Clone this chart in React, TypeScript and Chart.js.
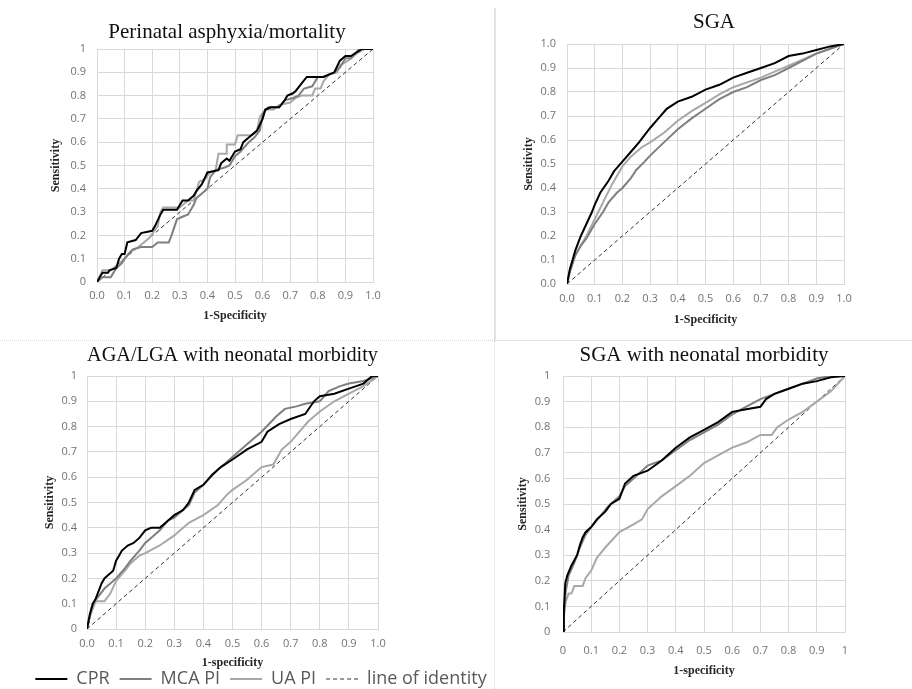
import React, { useEffect, useRef } from "react";
import { Chart, registerables } from "chart.js";

Chart.register(...registerables);

type Pt = [number, number];

// ---------- Panel 1: Perinatal asphyxia/mortality ----------
const p1Cpr: Pt[] = [[0,0],[0.01,0.02],[0.02,0.04],[0.04,0.04],[0.045,0.05],[0.07,0.06],[0.08,0.1],[0.09,0.12],[0.1,0.12],[0.11,0.17],[0.14,0.18],[0.16,0.21],[0.2,0.22],[0.21,0.24],[0.23,0.29],[0.24,0.31],[0.29,0.31],[0.3,0.33],[0.31,0.35],[0.33,0.35],[0.35,0.37],[0.36,0.39],[0.38,0.42],[0.4,0.47],[0.44,0.48],[0.45,0.51],[0.47,0.53],[0.48,0.52],[0.5,0.56],[0.52,0.57],[0.53,0.6],[0.55,0.62],[0.57,0.64],[0.58,0.65],[0.6,0.7],[0.61,0.74],[0.63,0.75],[0.66,0.75],[0.68,0.78],[0.69,0.8],[0.71,0.81],[0.72,0.82],[0.74,0.85],[0.76,0.88],[0.82,0.88],[0.84,0.89],[0.86,0.9],[0.88,0.95],[0.9,0.97],[0.92,0.97],[0.96,1],[1,1]];
const p1Mca: Pt[] = [[0,0],[0.02,0.02],[0.05,0.02],[0.07,0.06],[0.09,0.08],[0.1,0.1],[0.13,0.14],[0.16,0.15],[0.2,0.15],[0.22,0.17],[0.26,0.17],[0.27,0.2],[0.29,0.27],[0.31,0.28],[0.33,0.29],[0.35,0.33],[0.36,0.36],[0.38,0.38],[0.4,0.4],[0.41,0.45],[0.43,0.48],[0.46,0.49],[0.48,0.5],[0.5,0.54],[0.52,0.56],[0.55,0.6],[0.57,0.62],[0.59,0.65],[0.6,0.72],[0.62,0.75],[0.66,0.75],[0.68,0.78],[0.71,0.79],[0.73,0.8],[0.75,0.83],[0.78,0.84],[0.8,0.88],[0.82,0.88],[0.86,0.9],[0.88,0.92],[0.9,0.96],[0.92,0.96],[0.95,1],[1,1]];
const p1Ua: Pt[] = [[0,0],[0.02,0.05],[0.05,0.05],[0.07,0.07],[0.1,0.1],[0.12,0.13],[0.15,0.15],[0.19,0.19],[0.22,0.24],[0.23,0.3],[0.24,0.32],[0.3,0.32],[0.31,0.33],[0.33,0.35],[0.35,0.35],[0.36,0.39],[0.37,0.43],[0.39,0.44],[0.41,0.47],[0.43,0.48],[0.44,0.55],[0.47,0.55],[0.47,0.59],[0.5,0.59],[0.51,0.63],[0.56,0.63],[0.58,0.65],[0.59,0.71],[0.61,0.74],[0.64,0.74],[0.66,0.76],[0.7,0.77],[0.72,0.79],[0.74,0.8],[0.78,0.8],[0.79,0.83],[0.81,0.83],[0.82,0.86],[0.84,0.89],[0.87,0.9],[0.88,0.93],[0.91,0.95],[0.94,0.98],[0.97,1],[1,1]];

// ---------- Panel 2: SGA ----------
const p2Cpr: Pt[] = [[0,0],[0.01,0.06],[0.02,0.1],[0.03,0.14],[0.05,0.2],[0.07,0.25],[0.09,0.3],[0.1,0.33],[0.12,0.38],[0.15,0.43],[0.17,0.47],[0.2,0.51],[0.23,0.55],[0.26,0.59],[0.3,0.65],[0.33,0.69],[0.36,0.73],[0.4,0.76],[0.45,0.78],[0.5,0.81],[0.55,0.83],[0.6,0.86],[0.65,0.88],[0.7,0.9],[0.75,0.92],[0.8,0.95],[0.85,0.96],[0.9,0.975],[0.95,0.99],[1,1]];
const p2Mca: Pt[] = [[0,0],[0.01,0.05],[0.03,0.12],[0.05,0.16],[0.07,0.19],[0.1,0.25],[0.13,0.3],[0.15,0.34],[0.18,0.38],[0.2,0.4],[0.23,0.44],[0.25,0.475],[0.28,0.51],[0.3,0.535],[0.35,0.59],[0.4,0.645],[0.45,0.69],[0.5,0.73],[0.55,0.77],[0.6,0.8],[0.65,0.82],[0.7,0.85],[0.75,0.87],[0.8,0.9],[0.85,0.93],[0.9,0.96],[0.95,0.98],[1,1]];
const p2Ua: Pt[] = [[0,0],[0.01,0.05],[0.03,0.12],[0.05,0.16],[0.07,0.2],[0.1,0.27],[0.13,0.34],[0.16,0.41],[0.18,0.45],[0.2,0.49],[0.23,0.53],[0.27,0.57],[0.3,0.59],[0.35,0.63],[0.4,0.68],[0.45,0.72],[0.5,0.755],[0.55,0.79],[0.6,0.82],[0.65,0.84],[0.7,0.86],[0.75,0.885],[0.8,0.91],[0.85,0.935],[0.9,0.96],[0.95,0.98],[1,1]];

// ---------- Panel 3: AGA/LGA with neonatal morbidity ----------
const p3Cpr: Pt[] = [[0,0],[0.005,0.03],[0.01,0.06],[0.02,0.1],[0.03,0.12],[0.04,0.15],[0.05,0.18],[0.06,0.2],[0.07,0.21],[0.09,0.23],[0.1,0.27],[0.11,0.29],[0.12,0.31],[0.14,0.33],[0.16,0.34],[0.18,0.36],[0.2,0.39],[0.22,0.4],[0.25,0.4],[0.27,0.42],[0.3,0.45],[0.33,0.47],[0.35,0.5],[0.37,0.55],[0.4,0.57],[0.43,0.61],[0.46,0.64],[0.5,0.67],[0.55,0.71],[0.6,0.74],[0.62,0.78],[0.66,0.81],[0.7,0.83],[0.75,0.85],[0.78,0.9],[0.8,0.92],[0.85,0.93],[0.9,0.95],[0.95,0.97],[0.98,1],[1,1]];
const p3Mca: Pt[] = [[0,0],[0.01,0.05],[0.02,0.1],[0.04,0.13],[0.06,0.16],[0.08,0.18],[0.1,0.2],[0.13,0.24],[0.15,0.27],[0.18,0.31],[0.2,0.34],[0.23,0.37],[0.25,0.39],[0.28,0.43],[0.3,0.44],[0.33,0.47],[0.35,0.49],[0.37,0.54],[0.4,0.57],[0.45,0.63],[0.5,0.68],[0.55,0.73],[0.6,0.78],[0.65,0.84],[0.68,0.87],[0.72,0.88],[0.75,0.89],[0.8,0.9],[0.83,0.94],[0.87,0.96],[0.9,0.97],[0.95,0.98],[1,1]];
const p3Ua: Pt[] = [[0,0],[0.01,0.05],[0.02,0.08],[0.03,0.11],[0.06,0.11],[0.08,0.14],[0.1,0.19],[0.13,0.23],[0.15,0.26],[0.18,0.29],[0.2,0.3],[0.25,0.33],[0.3,0.37],[0.35,0.42],[0.4,0.45],[0.45,0.49],[0.48,0.53],[0.5,0.55],[0.55,0.59],[0.6,0.64],[0.64,0.65],[0.67,0.71],[0.7,0.74],[0.73,0.78],[0.76,0.82],[0.8,0.86],[0.85,0.9],[0.9,0.93],[0.95,0.96],[1,1]];

// ---------- Panel 4: SGA with neonatal morbidity ----------
const p4Cpr: Pt[] = [[0,0],[0.003,0.08],[0.008,0.19],[0.015,0.22],[0.03,0.26],[0.05,0.3],[0.06,0.34],[0.07,0.37],[0.08,0.39],[0.1,0.41],[0.12,0.44],[0.15,0.47],[0.17,0.5],[0.2,0.52],[0.22,0.58],[0.25,0.61],[0.3,0.63],[0.35,0.67],[0.4,0.72],[0.45,0.76],[0.5,0.79],[0.55,0.82],[0.6,0.86],[0.65,0.87],[0.7,0.88],[0.72,0.91],[0.75,0.93],[0.8,0.95],[0.85,0.97],[0.9,0.98],[0.95,0.995],[1,1]];
const p4Mca: Pt[] = [[0,0],[0.005,0.1],[0.01,0.16],[0.02,0.22],[0.04,0.27],[0.06,0.33],[0.08,0.38],[0.1,0.41],[0.13,0.45],[0.16,0.49],[0.2,0.53],[0.22,0.57],[0.25,0.6],[0.3,0.65],[0.35,0.67],[0.4,0.71],[0.45,0.75],[0.5,0.78],[0.55,0.81],[0.6,0.85],[0.65,0.88],[0.7,0.91],[0.75,0.93],[0.8,0.95],[0.85,0.97],[0.9,0.99],[0.95,1],[1,1]];
const p4Ua: Pt[] = [[0,0],[0.005,0.08],[0.01,0.12],[0.02,0.15],[0.03,0.15],[0.04,0.18],[0.07,0.18],[0.08,0.21],[0.1,0.24],[0.12,0.29],[0.15,0.33],[0.2,0.39],[0.25,0.42],[0.28,0.44],[0.3,0.48],[0.35,0.53],[0.4,0.57],[0.45,0.61],[0.5,0.66],[0.55,0.69],[0.6,0.72],[0.65,0.74],[0.7,0.77],[0.74,0.77],[0.76,0.8],[0.8,0.83],[0.85,0.86],[0.9,0.9],[0.95,0.94],[1,1]];

const identity: Pt[] = [[0,0],[1,1]];

const seriesLabels = ["CPR", "MCA PI", "UA PI", "line of identity"];
const seriesColors = ["#000000", "#7f7f7f", "#a8a8a8", "#333333"];

const titles = [
  "Perinatal asphyxia/mortality",
  "SGA",
  "AGA/LGA with neonatal morbidity",
  "SGA with neonatal morbidity",
];
const xTitles = ["1-Specificity", "1-Specificity", "1-specificity", "1-specificity"];
const yTitle = "Sensitivity";

type Fmt = "fixed1" | "plain";

interface PanelCfg {
  idx: number;
  series: Pt[][];
  left: number; top: number; w: number; h: number;
  yAxisW: number; rightW: number;
  titlePt: number; titlePb: number; titleFull: boolean;
  xAxisH: number; xTickPad: number; xTitlePb: number;
  yTickPad: number; yTitlePt: number;
  xFmt: Fmt; yFmt: Fmt;
  legend: boolean;
}

const panels: PanelCfg[] = [
  { idx: 0, series: [p1Cpr, p1Mca, p1Ua, identity], left: 40, top: 0, w: 374, h: 340,
    yAxisW: 57, rightW: 41, titlePt: 19.4, titlePb: 4.4, titleFull: true,
    xAxisH: 58, xTickPad: 7.4, xTitlePb: 17.2, yTickPad: 11, yTitlePt: 9.2,
    xFmt: "fixed1", yFmt: "plain", legend: false },
  { idx: 1, series: [p2Cpr, p2Mca, p2Ua, identity], left: 516, top: 0, w: 396, h: 340,
    yAxisW: 51, rightW: 68, titlePt: 10.1, titlePb: 8.7, titleFull: true,
    xAxisH: 56, xTickPad: 8.7, xTitlePb: 13.2, yTickPad: 11, yTitlePt: 6.2,
    xFmt: "fixed1", yFmt: "fixed1", legend: false },
  { idx: 2, series: [p3Cpr, p3Mca, p3Ua, identity], left: 10, top: 340, w: 502, h: 358,
    yAxisW: 77, rightW: 134, titlePt: 2.4, titlePb: 8.4, titleFull: false,
    xAxisH: 31, xTickPad: 8.4, xTitlePb: -10.5, yTickPad: 10, yTitlePt: 32.9,
    xFmt: "fixed1", yFmt: "plain", legend: true },
  { idx: 3, series: [p4Cpr, p4Mca, p4Ua, identity], left: 510, top: 340, w: 388, h: 349,
    yAxisW: 53, rightW: 53, titlePt: 2.4, titlePb: 8.4, titleFull: true,
    xAxisH: 57, xTickPad: 12.4, xTitlePb: 11.2, yTickPad: 12.7, yTitlePt: 5.9,
    xFmt: "plain", yFmt: "plain", legend: false },
];

const fmt = (f: Fmt) => (v: any) => {
  const n = Number(v);
  return f === "fixed1" ? n.toFixed(1) : String(Math.round(n * 10) / 10);
};

const TICK_FONT = { family: "'Open Sans', 'Noto Sans', sans-serif", size: 11 };
const AXIS_TITLE_FONT = { family: "'Liberation Serif', 'Times New Roman', serif", size: 12, weight: "bold" as const };
const GRID = "#d9d9d9";

function buildConfig(p: PanelCfg): any {
  const datasets = p.series.map((s, i) => ({
    label: seriesLabels[i],
    data: s.map(([x, y]) => ({ x, y })),
    borderColor: seriesColors[i],
    backgroundColor: seriesColors[i],
    borderWidth: i === 3 ? 1 : 2,
    borderDash: i === 3 ? [4, 3] : [],
    pointRadius: 0,
    pointHoverRadius: 0,
    tension: 0,
    fill: false,
    xAxisID: "x",
    yAxisID: "y",
  }));

  return {
    type: "line",
    data: { datasets },
    options: {
      animation: false,
      responsive: false,
      maintainAspectRatio: false,
      events: [],
      layout: { padding: 0 },
      plugins: {
        title: {
          display: true,
          text: titles[p.idx],
          fullSize: p.titleFull,
          color: "#111111",
          font: { family: "'Liberation Serif', 'Times New Roman', serif", size: 21, weight: "normal", lineHeight: 1.2 },
          padding: { top: p.titlePt, bottom: p.titlePb },
        },
        legend: {
          display: p.legend,
          position: "bottom",
          align: "center",
          labels: {
            usePointStyle: true,
            pointStyle: "line",
            pointStyleWidth: 32,
            padding: 10,
            color: "#595959",
            font: { family: "'Open Sans', 'Noto Sans', sans-serif", size: 18 },
            generateLabels: (chart: any) =>
              chart.data.datasets.map((ds: any, i: number) => ({
                text: ds.label,
                datasetIndex: i,
                hidden: false,
                strokeStyle: ds.borderColor,
                fillStyle: "rgba(0,0,0,0)",
                lineWidth: ds.borderWidth,
                lineDash: ds.borderDash,
                pointStyle: "line",
                fontColor: "#595959",
              })),
          },
        },
        tooltip: { enabled: false },
      },
      scales: {
        x: {
          type: "linear",
          position: "bottom",
          min: 0,
          max: 1,
          ticks: {
            stepSize: 0.1,
            autoSkip: false,
            maxRotation: 0,
            padding: p.xTickPad,
            color: "#737373",
            font: TICK_FONT,
            callback: fmt(p.xFmt),
          },
          grid: { color: GRID, lineWidth: 1, drawTicks: false },
          border: { color: GRID, width: 1 },
          title: {
            display: true,
            text: xTitles[p.idx],
            color: "#262626",
            font: AXIS_TITLE_FONT,
            padding: { top: 0, bottom: p.xTitlePb },
          },
          afterFit: (s: any) => { s.height = p.xAxisH; },
        },
        y: {
          type: "linear",
          position: "left",
          min: 0,
          max: 1,
          ticks: {
            stepSize: 0.1,
            autoSkip: false,
            padding: p.yTickPad,
            color: "#737373",
            font: TICK_FONT,
            callback: fmt(p.yFmt),
          },
          grid: { color: GRID, lineWidth: 1, drawTicks: false },
          border: { color: GRID, width: 1 },
          title: {
            display: true,
            text: yTitle,
            color: "#262626",
            font: AXIS_TITLE_FONT,
            padding: { top: p.yTitlePt, bottom: 0 },
          },
          afterFit: (s: any) => { s.width = p.yAxisW; },
        },
        yPad: {
          type: "linear",
          position: "right",
          display: true,
          min: 0,
          max: 1,
          ticks: { display: false },
          grid: { display: false, drawTicks: false },
          border: { display: false },
          title: { display: false },
          afterFit: (s: any) => { s.width = p.rightW; },
        },
      },
    },
  };
}

function Panel({ p }: { p: PanelCfg }) {
  const ref = useRef<HTMLCanvasElement | null>(null);
  useEffect(() => {
    if (!ref.current) return;
    const chart = new Chart(ref.current, buildConfig(p));
    return () => chart.destroy();
  }, [p]);
  return (
    <canvas
      ref={ref}
      width={p.w}
      height={p.h}
      style={{ position: "absolute", left: p.left, top: p.top, width: p.w, height: p.h }}
    />
  );
}

export default function App() {
  return (
    <div
      style={{
        position: "fixed",
        left: 0,
        top: 0,
        width: 912,
        height: 689,
        overflow: "hidden",
        background: "#ffffff",
      }}
    >
      {/* panel dividers */}
      <div style={{ position: "absolute", left: 494, top: 8, width: 0, height: 332, borderLeft: "2px solid #e3e3e3" }} />
      <div style={{ position: "absolute", left: 0, top: 340, width: 495, height: 0, borderTop: "1px dotted #d6d6d6" }} />
      <div style={{ position: "absolute", left: 495, top: 340, width: 417, height: 0, borderTop: "1px solid #e3e3e3" }} />
      <div style={{ position: "absolute", left: 494, top: 341, width: 0, height: 348, borderLeft: "1px dotted #d6d6d6" }} />
      {panels.map((p) => (
        <Panel key={p.idx} p={p} />
      ))}
    </div>
  );
}
